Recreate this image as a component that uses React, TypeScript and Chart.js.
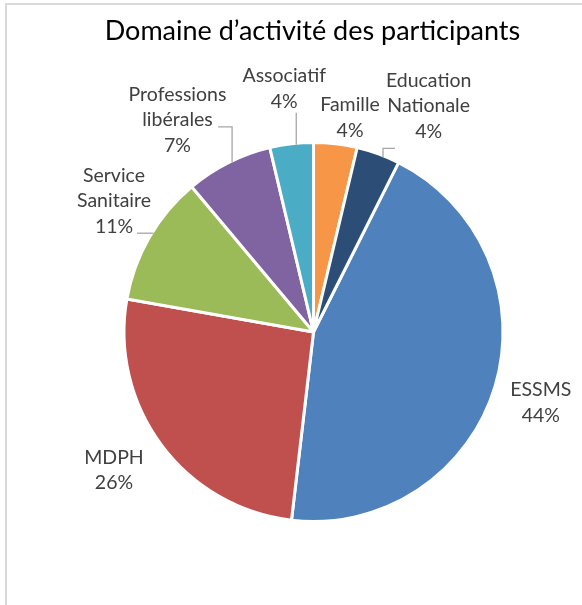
import { useEffect, useRef } from "react";
import { Chart, registerables } from "chart.js";

Chart.register(...registerables);

const title = "Domaine d’activité des participants";
const categories = [
  "ESSMS",
  "MDPH",
  "Service Sanitaire",
  "Professions libérales",
  "Associatif",
  "Famille",
  "Education Nationale",
];
const labelLines = [
  ["ESSMS"],
  ["MDPH"],
  ["Service", "Sanitaire"],
  ["Professions", "libérales"],
  ["Associatif"],
  ["Famille"],
  ["Education", "Nationale"],
];
const counts = [12, 7, 3, 2, 1, 1, 1];
const colors = ["#4F81BD", "#C0504D", "#9BBB59", "#8064A2", "#4BACC6", "#F79646", "#2C4D75"];

// label placement (polar, relative to each slice's mid angle)
const labelAngleShift = [0.6, 2, 3.3, -6, -0.2, 3, 7];
const labelGap = [50, 54.6, 50.7, 64, 57, 29.6, 65.6];
// leader lines: slice index, angle shift at the pie edge, relative moves
const leaders: { index: number; shift: number; moves: number[][] }[] = [
  { index: 2, shift: 1.7, moves: [[-16.6, 0]] },
  { index: 3, shift: 1.0, moves: [[0, -35.6], [-14, 0]] },
  { index: 4, shift: 1.4, moves: [[0, -32]] },
  { index: 6, shift: 1.7, moves: [[0, -9], [12, 0]] },
];

const FONT = "Lato, 'Open Sans', sans-serif";
const LABEL_SIZE = 19.5;
const LINE_H = 25.5;
const TITLE_SIZE = 27;
const BORDER = 3;

export default function App() {
  const ref = useRef<HTMLCanvasElement>(null);
  useEffect(() => {
    if (!ref.current) return;
    const total = counts.reduce((a, b) => a + b, 0);
    const rad = (d: number) => (d * Math.PI) / 180;
    const labelPlugin = {
      id: "pieLabels",
      afterDraw(chart: any) {
        const ctx = chart.ctx as CanvasRenderingContext2D;
        const meta = chart.getDatasetMeta(0);
        ctx.save();
        const first = meta.data[0].getProps(["x", "y"], true);
        ctx.fillStyle = "#000";
        ctx.font = `${TITLE_SIZE}px ${FONT}`;
        ctx.textAlign = "center";
        ctx.textBaseline = "alphabetic";
        ctx.fillText(title, first.x - 1, 40);

        ctx.font = `${LABEL_SIZE}px ${FONT}`;
        ctx.textBaseline = "middle";
        ctx.fillStyle = "#404040";
        meta.data.forEach((arc: any, i: number) => {
          const p = arc.getProps(["x", "y", "startAngle", "endAngle", "outerRadius"], true);
          const R = p.outerRadius - BORDER / 2;
          const mid = (p.startAngle + p.endAngle) / 2 + rad(labelAngleShift[i]);
          const d = R + labelGap[i];
          const cx = p.x + d * Math.cos(mid);
          const cy = p.y + d * Math.sin(mid);
          const pct = Math.round((counts[i] / total) * 100) + "%";
          const lines = [...labelLines[i], pct];
          const y0 = cy - ((lines.length - 1) * LINE_H) / 2;
          lines.forEach((t, k) => ctx.fillText(t, cx, y0 + k * LINE_H));
        });

        ctx.strokeStyle = "#A6A6A6";
        ctx.lineWidth = 1.3;
        leaders.forEach((l) => {
          const p = meta.data[l.index].getProps(["x", "y", "startAngle", "endAngle", "outerRadius"], true);
          const R = p.outerRadius - BORDER / 2;
          const a = (p.startAngle + p.endAngle) / 2 + rad(l.shift);
          let x = p.x + R * Math.cos(a);
          let y = p.y + R * Math.sin(a);
          ctx.beginPath();
          ctx.moveTo(x, y);
          l.moves.forEach(([dx, dy]) => {
            x += dx;
            y += dy;
            ctx.lineTo(x, y);
          });
          ctx.stroke();
        });
        ctx.restore();
      },
    };

    const chart = new Chart(ref.current, {
      type: "pie",
      data: {
        labels: categories,
        datasets: [
          {
            data: counts,
            backgroundColor: colors,
            borderColor: "#ffffff",
            borderWidth: BORDER,
          },
        ],
      },
      options: {
        responsive: false,
        animation: false,
        rotation: 26.67,
        layout: { padding: { left: 122.5, right: 77.5, top: 141, bottom: 82 } },
        plugins: {
          legend: { display: false },
          tooltip: { enabled: false },
          title: { display: false },
        },
      },
      plugins: [labelPlugin],
    });
    return () => chart.destroy();
  }, []);

  return (
    <div
      style={{
        position: "fixed",
        left: 0,
        top: 0,
        width: 582,
        height: 605,
        overflow: "hidden",
        background: "#fff",
      }}
    >
      <div
        style={{
          position: "absolute",
          left: 5,
          top: 3,
          width: 700,
          height: 700,
          borderTop: "2px solid #D9D9D9",
          borderLeft: "2px solid #D9D9D9",
        }}
      />
      <canvas ref={ref} width={582} height={605} style={{ position: "absolute", left: 0, top: 0 }} />
    </div>
  );
}
